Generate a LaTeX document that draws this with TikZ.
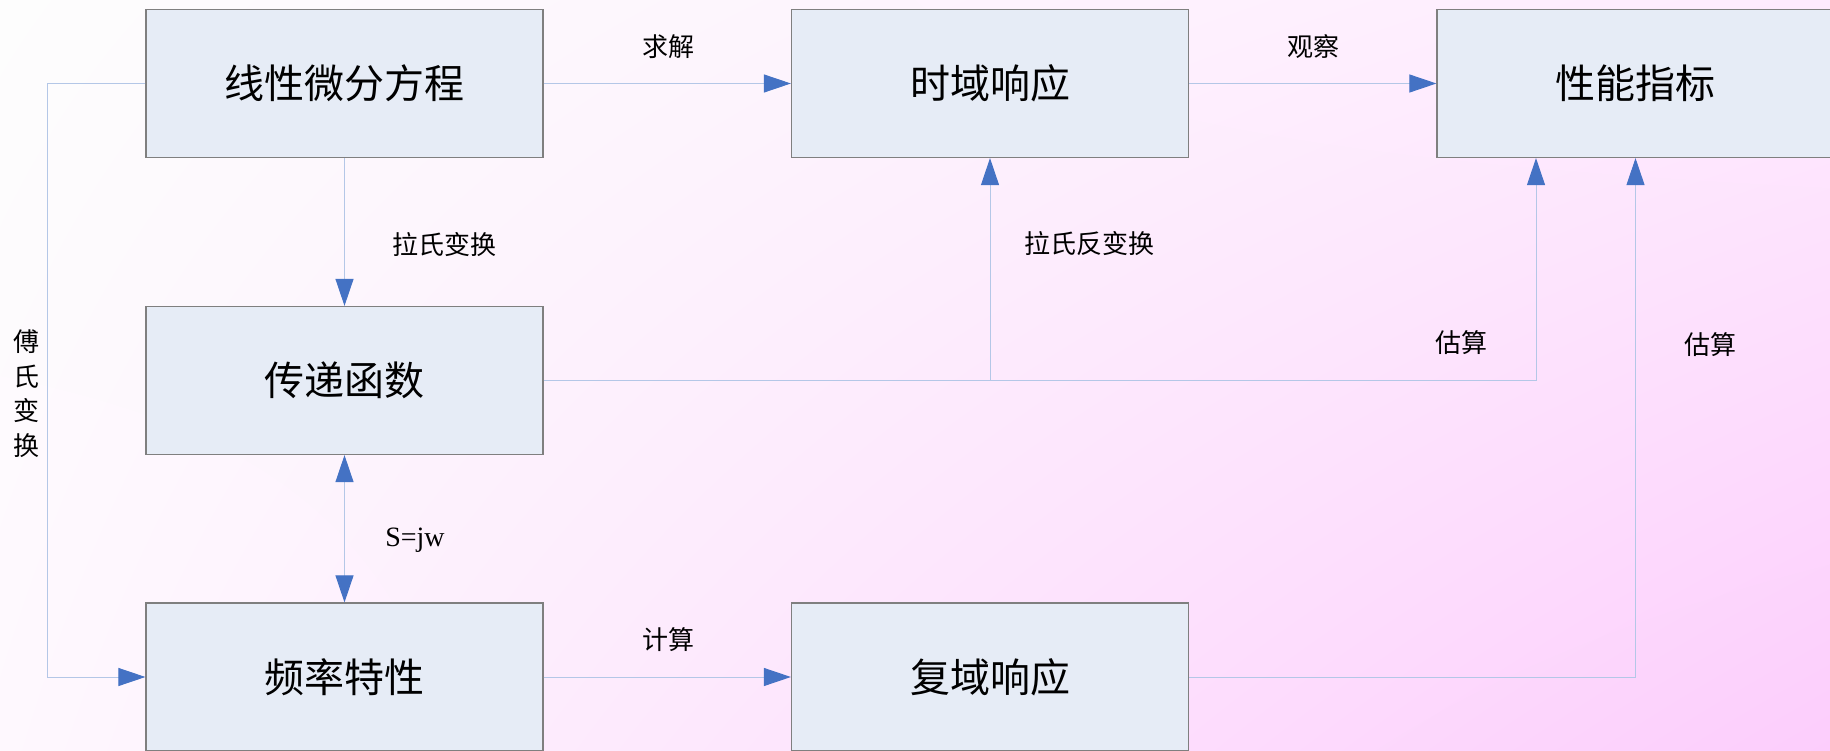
\documentclass[tikz,border=0pt]{standalone}
\usepackage{fontspec}
\setmainfont{Liberation Serif}
\newfontfamily\cjk{Noto Sans CJK SC}
\usetikzlibrary{arrows.meta,shadings}
\definecolor{boxfill}{HTML}{E6ECF6}
\definecolor{boxline}{HTML}{7F7F7F}
\definecolor{linkline}{HTML}{B4C7E7}
\definecolor{tipblue}{HTML}{4472C4}
\definecolor{bgA}{HTML}{FDFDFD}
\definecolor{bgB}{HTML}{FEEBFE}
\definecolor{bgC}{HTML}{FEF8FE}
\definecolor{bgD}{HTML}{FCCDFC}
\tikzset{
  blockbox/.style={draw=boxline, line width=1.2pt, fill=boxfill, minimum width=397pt, minimum height=148pt, inner sep=0pt, font=\cjk\fontsize{40}{40}\selectfont},
  conn/.style={draw=linkline, line width=1pt, -{Triangle[length=27pt,width=18pt,color=tipblue]}},
  dconn/.style={draw=linkline, line width=1pt, {Triangle[length=27pt,width=18pt,color=tipblue]}-{Triangle[length=27pt,width=18pt,color=tipblue]}},
  lab/.style={font=\cjk\fontsize{26}{26}\selectfont, inner sep=0pt},
}
\begin{document}
\begin{tikzpicture}[x=1pt,y=-1pt]
\clip (0,0) rectangle (1830,751);
\useasboundingbox (0,0) rectangle (1830,751);
\shade[upper left=bgA, upper right=bgB, lower left=bgC, lower right=bgD] (0,0) rectangle (1830,751);
\node[blockbox] (b1) at (344.5,83.5) {线性微分方程};
\node[blockbox] (b2) at (990,83.5) {时域响应};
\node[blockbox] (b3) at (1635.5,83.5) {性能指标};
\node[blockbox] (b4) at (344.5,380.5) {传递函数};
\node[blockbox] (b5) at (344.5,677) {频率特性};
\node[blockbox] (b6) at (990,677) {复域响应};
\coordinate (lx) at (47,0);
\draw[conn] (b1.east) -- (b2.west);
\draw[conn] (b2.east) -- (b3.west);
\draw[conn] (b1.south) -- (b4.north);
\draw[conn] (b1.west) -- (b1.west -| lx) |- (b5.west);
\draw[dconn] (b4.south) -- (b5.north);
\draw[conn] (b4.east) -| ([xshift=-99.5pt]b3.south);
\draw[conn] (b2.south |- b4.east) -- (b2.south);
\draw[conn] (b5.east) -- (b6.west);
\draw[conn] (b6.east) -| (b3.south);
\node[lab] (l1) at (668,47) {求解};
\node[lab] (l2) at (1313,47) {观察};
\node[lab] (l3) at (444,245) {拉氏变换};
\node[lab] (l4) at (1089,244) {拉氏反变换};
\node[lab] (l5) at (1461,343) {估算};
\node[lab] (l6) at (1710,345) {估算};
\node[lab, font=\fontsize{28}{28}\selectfont] (l7) at (415,540) {S=jw};
\node[lab] (l8) at (668,640) {计算};
\node[lab, align=center, font=\cjk\fontsize{26}{34.5}\selectfont] (l9) at (26,393.5) {傅\\氏\\变\\换};
\end{tikzpicture}
\end{document}
